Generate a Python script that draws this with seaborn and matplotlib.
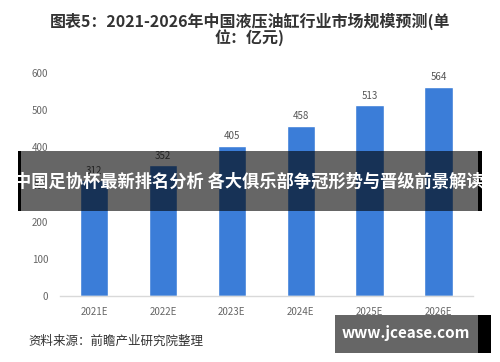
import pandas as pd
import matplotlib.pyplot as plt
import seaborn as sns
from matplotlib.patches import Rectangle

# 数据
years = ['2021E', '2022E', '2023E', '2024E', '2025E', '2026E']
market_size = [312, 352, 405, 458, 513, 564]
y_ticks = [0, 100, 200, 300, 400, 500, 600]

df = pd.DataFrame({'year': years, 'size': market_size})

sns.set_style('white')
plt.rcParams['font.family'] = ['Noto Sans CJK SC', 'DejaVu Sans']

fig = plt.figure(figsize=(5, 3.62), dpi=100)
ax = fig.add_axes([0.119, 0.182, 0.827, 0.616])

sns.barplot(data=df, x='year', y='size', color='#3b7dd8', width=0.41,
            saturation=1, ax=ax)

for i, v in enumerate(market_size):
    ax.text(i, v + 12, str(v), ha='center', va='bottom', fontsize=7, color='#555555')

ax.set_ylim(0, 600)
ax.set_xlim(-0.5, 5.5)
ax.set_yticks(y_ticks)
ax.set_xlabel('')
ax.set_ylabel('')
ax.tick_params(axis='both', labelsize=7, colors='#666666', length=0, pad=8)
for s in ['top', 'right', 'left']:
    ax.spines[s].set_visible(False)
ax.spines['bottom'].set_color('#d9d9d9')
ax.spines['bottom'].set_linewidth(1)

# 标题
fig.text(0.5, 0.942, '图表5：2021-2026年中国液压油缸行业市场规模预测(单',
         ha='center', va='center', fontsize=11.5, fontweight='bold', color='#333333')
fig.text(0.5, 0.897, '位：亿元)', ha='center', va='center', fontsize=11.5,
         fontweight='bold', color='#333333')

# 来源
fig.text(0.056, 0.058, '资料来源：前瞻产业研究院整理', ha='left', va='center',
         fontsize=9, color='#333333')

W, H = 500, 362

def box(x0, y0, x1, y1, color, alpha=1.0):
    fig.patches.append(Rectangle((x0 / W, 1 - y1 / H), (x1 - x0) / W, (y1 - y0) / H,
                                 transform=fig.transFigure, facecolor=color,
                                 alpha=alpha, edgecolor='none', zorder=5))

# 横幅
box(21, 151, 478, 211, 'black', 0.6)
box(18, 151, 21, 211, 'black')
box(478, 151, 482, 211, 'black')
fig.text(249 / W, 1 - 182 / H, '中国足协杯最新排名分析 各大俱乐部争冠形势与晋级前景解读',
         ha='center', va='center', fontsize=12.4, fontweight='bold', color='white', zorder=6)

# 网址
box(335, 315, 478, 353, 'black', 0.6)
box(478, 315, 491, 353, 'black')
fig.text(406 / W, 1 - 333 / H, 'www.jcease.com', ha='center', va='center',
         fontsize=11, fontweight='bold', color='white', zorder=6)

fig.savefig('out.png', dpi=100)
